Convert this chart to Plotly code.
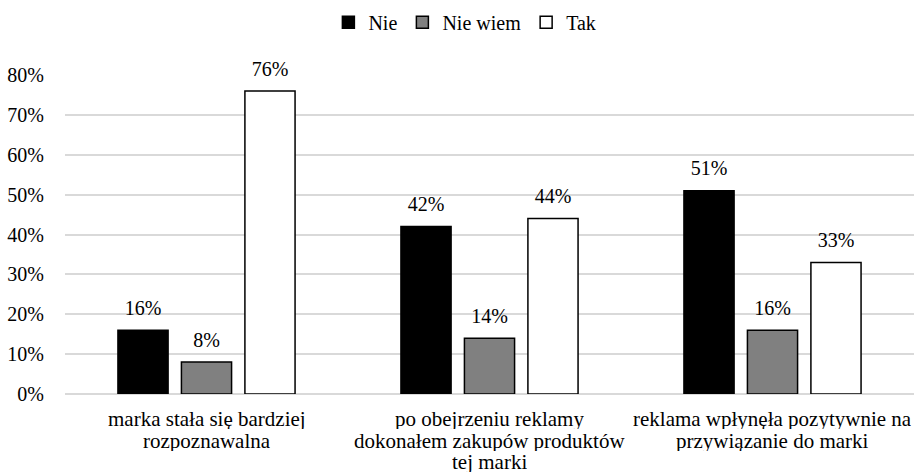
import plotly.graph_objects as go

categories = [
    "marka stała się bardziej<br>rozpoznawalna",
    "po obejrzeniu reklamy<br>dokonałem zakupów produktów<br>tej marki",
    "reklama wpłynęła pozytywnie na<br>przywiązanie do marki",
]
series_names = ["Nie", "Nie wiem", "Tak"]
nie = [0.16, 0.42, 0.51]
nie_wiem = [0.08, 0.14, 0.16]
tak = [0.76, 0.44, 0.33]
colors = ["#000000", "#808080", "#ffffff"]

FAM = "Liberation Serif"
font = dict(family=FAM, size=20, color="#000000")
catfont = dict(family=FAM, size=21, color="#000000")
BARGAP = 0.327

fig = go.Figure()
for name, vals, col in zip(series_names, [nie, nie_wiem, tak], colors):
    fig.add_trace(go.Bar(
        name=name, x=categories, y=vals,
        marker=dict(color=col, line=dict(color="#000000", width=1.5)),
        hoverinfo="skip",
    ))
# value labels (grouped scatter text aligned with bars)
for name, vals in zip(series_names, [nie, nie_wiem, tak]):
    fig.add_trace(go.Scatter(
        x=categories, y=vals, mode="markers+text",
        text=[f"{round(v*100)}%" for v in vals],
        textposition="top center", textfont=font,
        marker=dict(size=15, color="rgba(0,0,0,0)"),
        showlegend=False, hoverinfo="skip", cliponaxis=False,
    ))

# category labels
for cat in categories:
    for j, line in enumerate(cat.split("<br>")):
        fig.add_annotation(x=cat, y=0, xref="x", yref="y", yanchor="middle",
                           yshift=-(25 + 21.5 * j), showarrow=False, text=line, font=catfont,
                           height=20, valign="middle", borderpad=0)

fig.update_layout(
    barmode="group", bargap=BARGAP, bargroupgap=0.21,
    scattermode="group", scattergap=BARGAP,
    width=915, height=475,
    margin=dict(l=65, r=1, t=75, b=81, autoexpand=False),
    paper_bgcolor="white", plot_bgcolor="white",
    font=font,
    legend=dict(orientation="h", x=0.471, xanchor="center", y=0.994, yanchor="top",
                yref="container", font=font, itemwidth=30, traceorder="normal"),
    showlegend=True,
)
fig.update_yaxes(range=[0, 0.8], dtick=0.1, tickformat=".0%", showgrid=True,
                 gridcolor="#d9d9d9", gridwidth=1.5, zeroline=True, zerolinecolor="#d9d9d9",
                 zerolinewidth=1.5, ticks="", tickfont=font, ticklabelstandoff=20,
                 automargin=False)
fig.update_xaxes(showline=False, ticks="", showticklabels=False, automargin=False)

fig.write_html("out.html", post_script="document.body.style.margin='0';",
               config={"displayModeBar": False})
